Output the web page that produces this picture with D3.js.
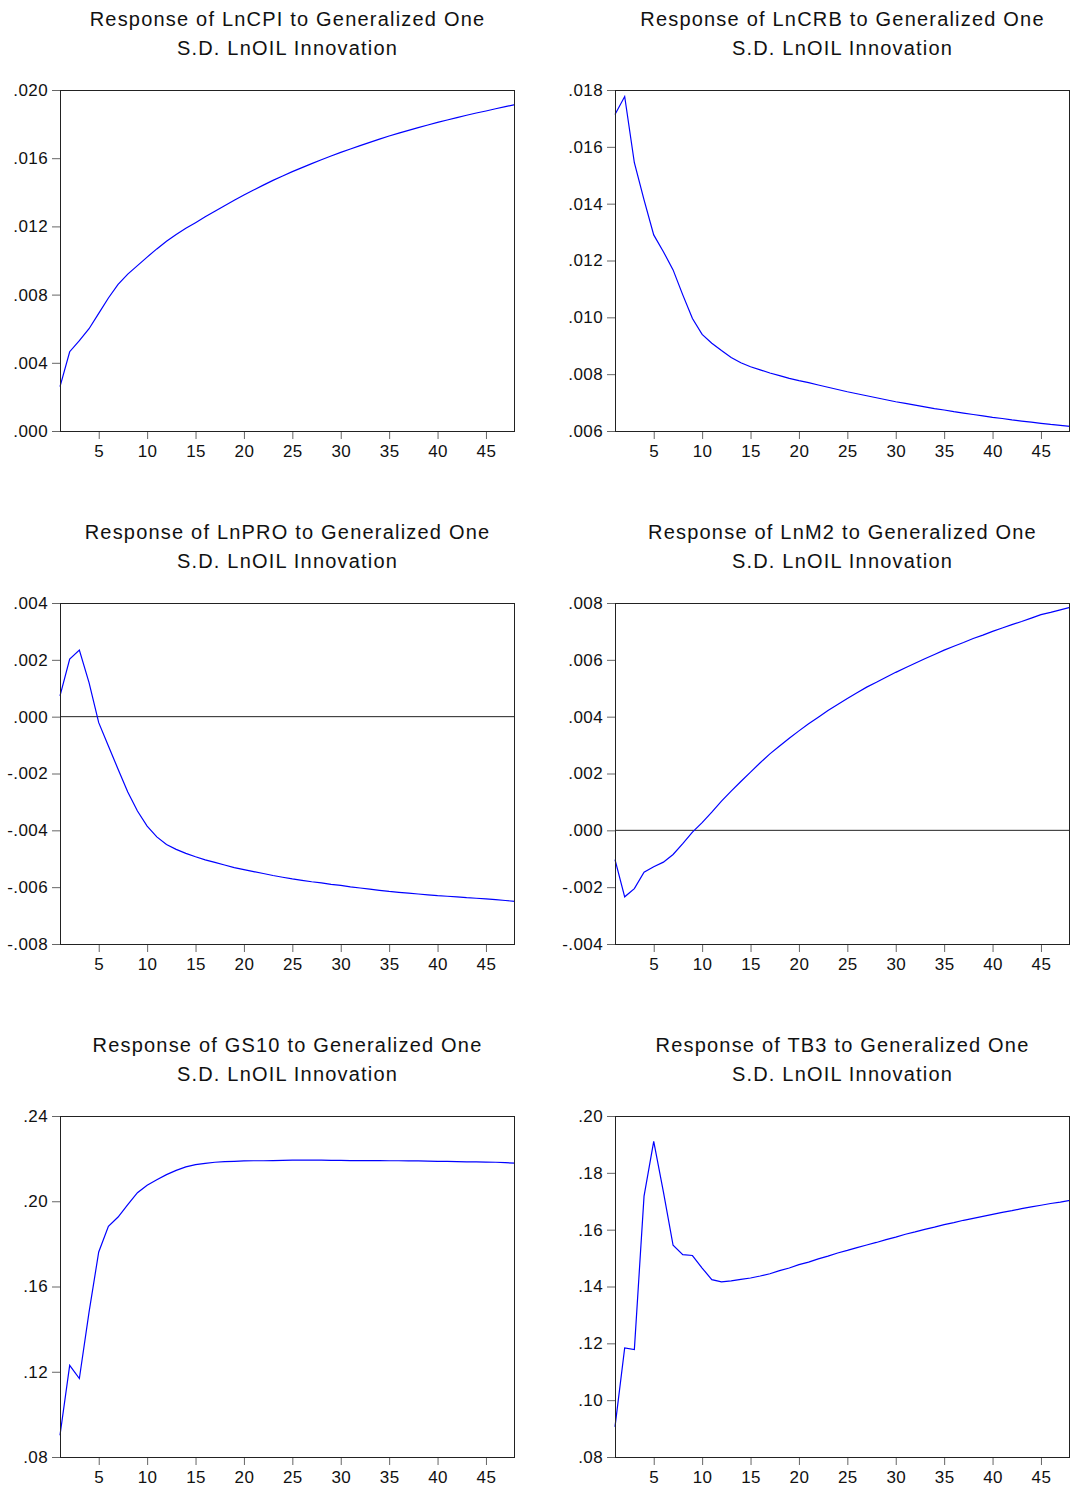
<!DOCTYPE html>
<html>
<head>
<meta charset="utf-8">
<script src="https://cdn.jsdelivr.net/npm/d3@7"></script>
<style>
  body { margin: 0; background: #fff; }
  svg { display: block; font-family: "Liberation Sans", Arial, sans-serif; }
</style>
</head>
<body>
<div id="chart"></div>
<script>
const periods = [1,2,3,4,5,6,7,8,9,10,11,12,13,14,15,16,17,18,19,20,21,22,23,24,
  25,26,27,28,29,30,31,32,33,34,35,36,37,38,39,40,41,42,43,44,45,46,47,48];
const xTicks = [5,10,15,20,25,30,35,40,45];

const lncpi = [.0026,.00465,.0053,.0060,.0069,.0078,.0086,.0092,.0097,.0102,
  .01068,.01113,.01153,.01189,.01222,.01256,.01289,.01321,.01353,.01384,
  .01413,.01442,.01470,.01496,.01521,.01545,.01568,.01591,.01613,.01634,
  .01654,.01674,.01693,.01712,.01730,.01747,.01763,.01779,.01795,.01810,
  .01824,.01838,.01852,.01865,.01877,.01890,.01902,.01914];

const lncrb = [.01714,.01777,.01544,.01413,.0129,.01231,.01167,.01079,.00996,.0094,
  .00909,.00883,.00859,.0084,.00826,.00815,.00804,.00795,.00785,.00777,
  .00770,.00762,.00754,.00746,.00738,.00731,.00724,.00717,.00710,.00703,
  .00697,.00691,.00685,.00679,.00674,.00668,.00663,.00658,.00653,.00648,
  .00644,.00639,.00635,.00631,.00627,.00623,.00620,.00616];

const lnpro = [.00073,.00203,.00234,.0012,-.00021,-.00103,-.00185,-.00265,-.00332,-.00385,
  -.00423,-.0045,-.00467,-.00481,-.00493,-.00504,-.00513,-.00522,-.00531,-.00538,
  -.00545,-.00552,-.00559,-.00565,-.00571,-.00576,-.00581,-.00585,-.00590,-.00594,
  -.00599,-.00603,-.00607,-.00611,-.00615,-.00618,-.00621,-.00624,-.00627,-.00630,
  -.00632,-.00634,-.00637,-.00639,-.00641,-.00644,-.00647,-.00650];

const lnm2 = [-.00103,-.00234,-.00205,-.00147,-.00128,-.00112,-.00085,-.00047,-.00006,.00027,
  .00064,.00103,.00138,.00172,.00205,.00238,.00269,.00297,.00324,.0035,
  .00375,.00398,.00422,.00443,.00464,.00484,.00504,.00521,.00539,.00556,
  .00572,.00588,.00604,.00619,.00634,.00648,.00661,.00675,.00687,.007,
  .00712,.00724,.00735,.00747,.00759,.00767,.00776,.00785];

const gs10 = [.0902,.123,.1168,.148,.1762,.1882,.1926,.1984,.204,.2075,
  .2101,.2125,.2145,.2161,.2172,.2178,.2183,.2186,.2187,.2189,
  .2190,.2190,.2191,.2192,.2193,.2193,.2193,.2193,.2192,.2192,
  .2191,.2191,.2191,.2191,.2190,.2190,.2189,.2189,.2188,.2187,
  .2187,.2186,.2185,.2185,.2184,.2183,.2181,.2179];

const tb3 = [.0906,.1184,.1178,.1718,.1911,.1733,.1545,.1512,.1509,.1465,
  .1424,.1416,.142,.1425,.143,.1437,.1445,.1456,.1465,.1477,
  .1486,.1497,.1507,.1518,.1527,.1537,.1546,.1555,.1565,.1574,
  .1584,.1592,.1601,.1609,.1618,.1625,.1633,.1640,.1647,.1654,
  .1661,.1667,.1674,.1680,.1686,.1692,.1697,.1703];

const titles = [
  ["Response of LnCPI to Generalized One", "S.D. LnOIL Innovation"],
  ["Response of LnCRB to Generalized One", "S.D. LnOIL Innovation"],
  ["Response of LnPRO to Generalized One", "S.D. LnOIL Innovation"],
  ["Response of LnM2 to Generalized One", "S.D. LnOIL Innovation"],
  ["Response of GS10 to Generalized One", "S.D. LnOIL Innovation"],
  ["Response of TB3 to Generalized One", "S.D. LnOIL Innovation"]
];

const yTicks = [
  [0, .004, .008, .012, .016, .020],
  [.006, .008, .010, .012, .014, .016, .018],
  [-.008, -.006, -.004, -.002, 0, .002, .004],
  [-.004, -.002, 0, .002, .004, .006, .008],
  [.08, .12, .16, .20, .24],
  [.08, .10, .12, .14, .16, .18, .20]
];
const yDigits = [3, 3, 3, 3, 2, 2];
const series = [lncpi, lncrb, lnpro, lnm2, gs10, tb3];
const zeroLine = [false, false, true, true, false, false];

const width = 1070, height = 1490;
const colX = [60, 615];
const rowY = [90, 603, 1116];
const boxW = 455, boxH = 341;

const svg = d3.select('#chart').append('svg')
  .attr('width', width)
  .attr('height', height);

function fmt(digits) {
  return v => {
    const s = Math.abs(v).toFixed(digits).replace(/^0/, '');
    return (v < -1e-12 ? '-' : '') + s;
  };
}

series.forEach((values, i) => {
  const left = colX[i % 2];
  const top = rowY[Math.floor(i / 2)];
  const ticks = yTicks[i];

  const x = d3.scaleLinear().domain([1, 48]).range([left, left + boxW]);
  const y = d3.scaleLinear().domain([ticks[0], ticks[ticks.length - 1]]).range([top + boxH, top]);

  const g = svg.append('g');

  // title
  const t = g.append('text')
    .attr('text-anchor', 'middle')
    .attr('font-size', 20)
    .attr('letter-spacing', 1.2)
    .attr('fill', '#111');
  titles[i].forEach((line, k) => {
    t.append('tspan')
      .attr('x', left + boxW / 2)
      .attr('y', top - 64 + k * 29)
      .text(line);
  });

  // axes
  const ya = g.append('g')
    .attr('transform', `translate(${left},0)`)
    .call(d3.axisLeft(y).tickValues(ticks).tickFormat(fmt(yDigits[i])).tickSize(8).tickPadding(4));
  const xa = g.append('g')
    .attr('transform', `translate(0,${top + boxH})`)
    .call(d3.axisBottom(x).tickValues(xTicks).tickFormat(d3.format('d')).tickSize(8).tickPadding(6));
  [ya, xa].forEach(a => {
    a.select('.domain').remove();
    a.selectAll('line').attr('stroke', '#666');
    a.selectAll('text')
      .attr('font-size', 17)
      .attr('letter-spacing', 0.4)
      .attr('fill', '#111')
      .style('font-family', '"Liberation Sans", Arial, sans-serif');
  });

  if (zeroLine[i]) {
    g.append('line')
      .attr('x1', left).attr('x2', left + boxW)
      .attr('y1', y(0)).attr('y2', y(0))
      .attr('stroke', '#222').attr('stroke-width', 1);
  }

  g.append('path')
    .datum(values)
    .attr('fill', 'none')
    .attr('stroke', '#0000ff')
    .attr('stroke-width', 1.2)
    .attr('d', d3.line().x((d, j) => x(periods[j])).y(d => y(d)));

  g.append('rect')
    .attr('x', left + 0.5).attr('y', top + 0.5)
    .attr('width', boxW - 1).attr('height', boxH)
    .attr('fill', 'none')
    .attr('stroke', '#222')
    .attr('stroke-width', 1);
});
</script>
</body>
</html>
